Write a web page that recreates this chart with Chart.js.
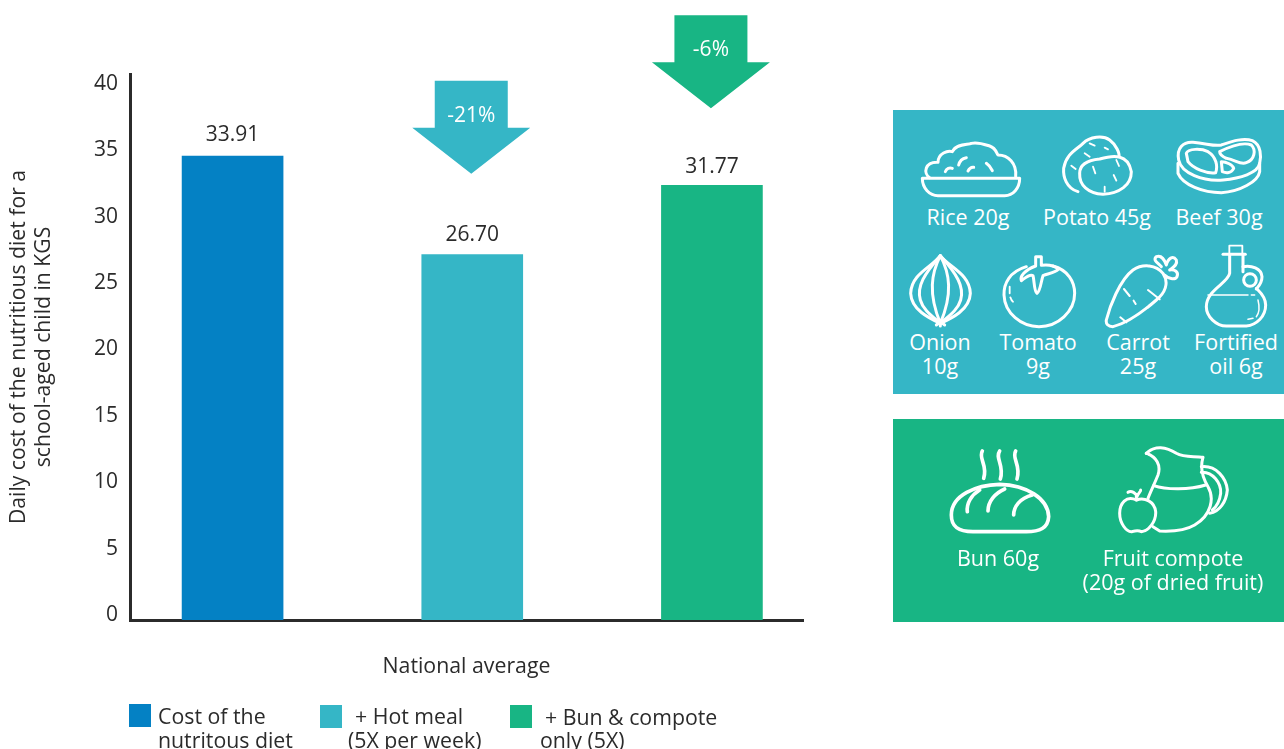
<!DOCTYPE html>
<html>
<head>
<meta charset="utf-8">
<script src="https://cdn.jsdelivr.net/npm/chart.js@4/dist/chart.umd.min.js"></script>
<style>
  body { margin: 0; background: #fff; font-family: "Open Sans", sans-serif; color: #2b2b2b; }
  #wrap { position: relative; width: 1284px; height: 749px; overflow: hidden; }
  canvas { position: absolute; left: 0; top: 0; }
  .panel { position: absolute; left: 893px; width: 391px; }
  .lbl { position: absolute; transform: translate(-50%, -50%); white-space: nowrap; color: #fff; font-size: 21.5px; line-height: 24px; text-align: center; }
  .sw { position: absolute; width: 22px; height: 23px; }
  .leg { position: absolute; white-space: nowrap; font-size: 21.3px; line-height: 23px; transform: translateY(-50%); }
  svg.icons { position: absolute; fill: none; stroke: #fff; stroke-width: 9; stroke-linecap: round; stroke-linejoin: round; }
</style>
</head>
<body>
<div id="wrap">
  <canvas id="costChart" width="1284" height="749"></canvas>

  <div class="panel" style="top:110px;height:284px;background:#35b6c6"></div>
  <div class="panel" style="top:419px;height:203px;background:#18b584"></div>

  <svg class="icons" width="391" height="290" viewBox="0 0 1173 870" style="left:893px;top:110px">
    <!-- rice -->
    <path d="M88 205 H380 C380 235 360 257 335 257 H135 C110 257 88 235 88 205 Z"/>
    <path d="M110 203 C90 190 95 155 135 157 C135 130 165 120 178 125 C190 100 225 105 235 100 C255 95 280 105 290 108 C310 115 310 130 315 135 C345 135 372 160 368 200"/>
    <path d="M157 185 C160 175 170 172 178 175 M197 165 C200 152 210 145 220 143 M225 183 Q232 170 242 172 M280 160 Q292 168 298 182"/>
    <!-- potato -->
    <path d="M555 245 C520 235 510 200 512 175 C520 130 550 120 570 100 C590 80 630 75 650 90 C670 105 680 130 678 140"/>
    <path d="M560 190 C560 160 590 150 620 147 C660 135 705 130 715 185 C715 225 680 250 630 253 C585 250 558 225 560 190 Z"/>
    <path stroke-width="5.5" d="M535 167 L548 177 M590 100 L605 107 M635 113 L645 118 M575 130 L590 140 M600 170 L607 190 M670 150 L678 168 M662 195 L670 212 M635 230 V245"/>
    <!-- beef -->
    <path d="M857 150 C850 115 870 95 900 97 C940 100 965 110 985 105 C1015 95 1050 82 1078 92 C1105 105 1105 140 1100 160 C1095 190 1040 205 990 210 C930 215 865 190 857 150 Z"/>
    <path d="M855 160 V190 C870 225 930 248 985 248 C1040 245 1095 215 1100 185 V160"/>
    <path d="M880 130 C885 115 925 115 945 125 C970 140 975 170 968 188 C940 192 900 175 885 155 Z"/>
    <path d="M980 125 C1010 110 1050 95 1075 105 C1090 120 1085 150 1060 158 C1040 165 1030 150 1000 145 C990 140 980 135 980 125 Z"/>
    <path d="M985 155 C1000 155 1020 165 1022 175 C1015 190 1000 190 988 185 Z"/>
    <!-- onion -->
    <path d="M142 437 C120 470 55 490 53 550 C55 600 110 625 142 640 C175 625 230 600 232 550 C230 490 165 470 142 437 Z"/>
    <path d="M142 437 C95 490 70 530 82 570 C90 600 120 620 142 640 M142 437 C190 490 215 530 203 570 C195 600 165 620 142 640"/>
    <path d="M142 437 C115 490 105 550 142 640 M142 437 C170 490 180 550 142 640"/>
    <path d="M130 645 L142 635 L155 645 M142 635 V648"/>
    <!-- tomato -->
    <path d="M400 470 C350 485 332 520 333 555 C335 610 385 650 438 650 C495 650 545 605 545 550 C545 515 525 480 480 468"/>
    <path d="M428 440 H445 V466 C470 462 485 468 497 477 C485 490 465 490 450 497 C445 510 442 545 432 550 C423 545 424 510 420 497 C410 490 395 505 385 512 C380 500 395 480 428 468 Z"/>
    <path d="M350 530 V550 M352 562 Q355 572 360 575" stroke-width="5.5"/>
    <!-- carrot -->
    <path d="M640 630 C650 590 680 510 720 480 C750 460 790 465 810 490 C830 520 815 550 790 570 C750 605 700 640 660 650 C645 650 638 642 640 630 Z"/>
    <path d="M805 470 C790 455 780 450 790 440 C805 435 815 450 820 465 C825 445 840 435 850 450 C855 465 840 472 830 480 C845 478 858 485 852 500 C845 512 825 505 815 495"/>
    <path d="M693 537 L710 558 M722 572 L728 582 M765 540 L800 568 M682 622 L700 637" stroke-width="6"/>
    <!-- oil -->
    <path stroke-width="5.5" d="M1009 430 V407 H1048 V430"/>
    <path d="M990 433 H1057"/>
    <path d="M1010 435 V490 C1005 520 940 540 940 590 C940 620 970 648 1000 648 H1060 C1090 645 1118 620 1118 585 C1118 560 1100 545 1090 535 M1050 435 V485"/>
    <path d="M1050 470 C1075 465 1105 475 1107 500 C1107 520 1095 530 1090 537"/>
    <circle cx="1071" cy="510" r="19"/>
    <path stroke-width="4.5" d="M945 555 H1065 M1075 555 H1085 M1095 570 C1100 590 1098 610 1090 620 M1080 625 L1065 628"/>
  </svg>

  <svg class="icons" width="391" height="210" viewBox="0 0 1173 630" style="left:893px;top:415px">
    <!-- bun -->
    <path d="M175 300 C175 240 250 210 320 208 C400 210 465 250 467 305 C465 340 440 350 400 350 H240 C195 350 175 335 175 300 Z" stroke-width="11"/>
    <path d="M223 290 C220 265 235 240 260 225 M285 288 C285 260 305 235 335 222 M362 300 C362 275 380 250 418 240" stroke-width="11"/>
    <path d="M268 108 C255 130 285 150 272 190 M320 108 C305 130 335 150 322 192 M368 108 C355 130 385 150 372 192" stroke-width="11"/>
    <!-- jug -->
    <path d="M760 115 C785 90 820 95 850 115 C875 130 905 122 930 127 C920 160 930 190 945 215 C965 250 955 300 905 330 C880 345 840 350 800 348 L780 335"/>
    <path d="M760 115 C790 125 805 150 795 180 C785 205 775 225 765 250"/>
    <path d="M782 212 C820 225 890 225 938 210"/>
    <path d="M925 155 C970 150 1000 190 1003 225 C1000 260 980 290 950 295"/>
    <path d="M925 172 C960 170 985 205 983 235 C980 260 970 275 958 285"/>
    <!-- apple -->
    <path d="M730 255 C700 240 680 265 680 295 C680 325 700 350 715 350 C725 348 735 345 745 350 C765 350 790 320 788 290 C785 260 755 245 730 255 Z"/>
    <path d="M730 255 V238 M705 232 C715 225 730 235 732 245 M732 245 C735 235 745 228 743 225"/>
  </svg>

  <span class="lbl" style="left:968px;top:217px">Rice 20g</span>
  <span class="lbl" style="left:1097px;top:217px">Potato 45g</span>
  <span class="lbl" style="left:1219px;top:217px">Beef 30g</span>
  <span class="lbl" style="left:940px;top:354px">Onion<br>10g</span>
  <span class="lbl" style="left:1038px;top:354px">Tomato<br>9g</span>
  <span class="lbl" style="left:1138px;top:354px">Carrot<br>25g</span>
  <span class="lbl" style="left:1236px;top:354px">Fortified<br>oil 6g</span>
  <span class="lbl" style="left:998px;top:558px">Bun 60g</span>
  <span class="lbl" style="left:1173px;top:570px">Fruit compote<br>(20g of dried fruit)</span>

  <div class="sw" style="left:129px;top:704px;background:#0481c4"></div>
  <div class="sw" style="left:320px;top:705px;background:#35b6c6"></div>
  <div class="sw" style="left:510px;top:705px;background:#18b584"></div>
  <span class="leg" style="left:158px;top:715px">Cost of the</span>
  <span class="leg" style="left:158px;top:739px">nutritous diet</span>
  <span class="leg" style="left:355px;top:715px">+ Hot meal</span>
  <span class="leg" style="left:348px;top:739px">(5X per week)</span>
  <span class="leg" style="left:545px;top:716px">+ Bun &amp; compote</span>
  <span class="leg" style="left:540px;top:739px">only (5X)</span>
</div>

<script>
const categories = ['Cost of the nutritous diet', '+ Hot meal (5X per week)', '+ Bun & compote only (5X)'];
const values = [33.91, 26.70, 31.77];
const changes = ['', '-21%', '-6%'];
const barColors = ['#0481c4', '#35b6c6', '#18b584'];
const yTitle = ['Daily cost of the nutritious diet for a', 'school-aged child in KGS'];
const xTitle = 'National average';

const FONT = '"Open Sans", sans-serif';
const INK = '#2b2b2b';

// gaps above each bar
const labelGap = [21, 20, 18];
const arrowGap = [0, 81, 77];

// value labels and the down arrows sit on top of the bars
const barExtras = {
  id: 'barExtras',
  afterDatasetsDraw(chart) {
    const ctx = chart.ctx;
    ctx.save();
    ctx.textAlign = 'center';
    ctx.textBaseline = 'middle';
    chart.getDatasetMeta(0).data.forEach((bar, i) => {
      ctx.fillStyle = INK;
      ctx.font = '21px ' + FONT;
      ctx.fillText(values[i].toFixed(2), bar.x, bar.y - labelGap[i]);
      if (!changes[i]) return;
      const tip = bar.y - arrowGap[i];
      const cx = bar.x - 1;
      ctx.fillStyle = barColors[i];
      ctx.beginPath();
      ctx.moveTo(cx - 36.5, tip - 93);
      ctx.lineTo(cx + 36.5, tip - 93);
      ctx.lineTo(cx + 36.5, tip - 46);
      ctx.lineTo(cx + 59, tip - 46);
      ctx.lineTo(cx, tip);
      ctx.lineTo(cx - 59, tip - 46);
      ctx.lineTo(cx - 36.5, tip - 46);
      ctx.closePath();
      ctx.fill();
      ctx.fillStyle = '#fff';
      ctx.font = '21px ' + FONT;
      ctx.fillText(changes[i], cx, tip - 58);
    });
    ctx.restore();
  }
};

new Chart(document.getElementById('costChart'), {
  type: 'bar',
  data: {
    datasets: [{
      label: 'Daily cost',
      data: values.map((v, i) => ({ x: i, y: v })),
      backgroundColor: barColors,
      barThickness: 101
    }]
  },
  options: {
    responsive: false,
    animation: false,
    layout: { padding: { left: -1, right: 481, top: 74, bottom: 69 } },
    plugins: { legend: { display: false }, tooltip: { enabled: false } },
    scales: {
      x: {
        type: 'linear',
        offset: false,
        min: -0.428,
        max: 2.38,
        grid: { display: false },
        border: { color: INK, width: 3 },
        ticks: { display: false },
        title: { display: true, text: xTitle, color: INK, font: { family: FONT, size: 21.3 }, padding: 0 },
        afterFit(s) { s.height = 60; }
      },
      y: {
        position: 'left',
        weight: 0,
        min: 0,
        max: 39.9,
        grid: { display: false },
        border: { color: INK, width: 3 },
        ticks: { display: false },
        afterFit(s) { s.width = 0; }
      },
      // tick labels in the picture run a little tighter than the bars' scale
      yLabels: {
        position: 'left',
        weight: 1,
        min: -0.38,
        max: 40.75,
        grid: { display: false },
        border: { display: false },
        ticks: { stepSize: 5, includeBounds: false, color: INK, padding: 4, font: { family: FONT, size: 21 } },
        title: { display: true, text: yTitle, color: INK, font: { family: FONT, size: 21.2 }, padding: { top: 7, bottom: 0 } },
        afterFit(s) { s.width = 131; }
      }
    }
  },
  plugins: [barExtras]
});
</script>
</body>
</html>
